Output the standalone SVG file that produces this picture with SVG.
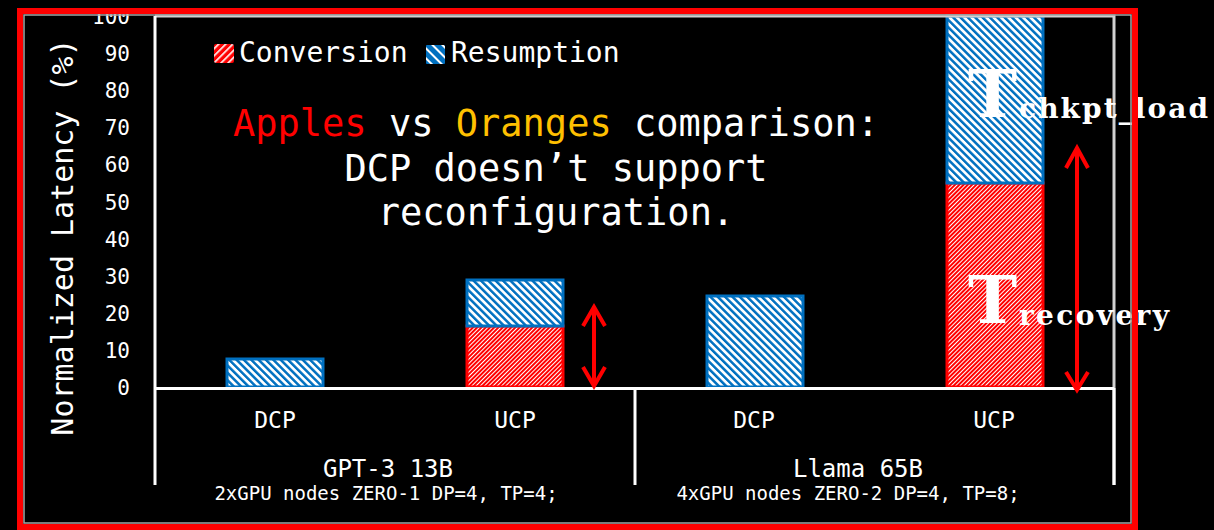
<svg xmlns="http://www.w3.org/2000/svg" width="1214" height="530" viewBox="0 0 1214 530">
  <defs>
    <pattern id="hatchBlue" patternUnits="userSpaceOnUse" width="5.2" height="5.2" patternTransform="rotate(-45)">
      <rect width="5.2" height="5.2" fill="#ffffff"/>
      <rect width="2.5" height="5.2" fill="#0070C0"/>
    </pattern>
    <pattern id="hatchRed" patternUnits="userSpaceOnUse" width="3" height="3" patternTransform="rotate(45)">
      <rect width="3" height="3" fill="#ff0000"/>
      <rect width="1" height="3" fill="#ffffff"/>
    </pattern>
    <pattern id="legRed" patternUnits="userSpaceOnUse" width="5" height="5" patternTransform="rotate(45)">
      <rect width="5" height="5" fill="#ff0000"/>
      <rect width="1.6" height="5" fill="#ffffff"/>
    </pattern>
    <pattern id="legBlue" patternUnits="userSpaceOnUse" width="7" height="7" patternTransform="rotate(-45)">
      <rect width="7" height="7" fill="#0070C0"/>
      <rect width="2" height="7" fill="#ffffff"/>
    </pattern>
    <style>
      .mono { font-family: "DejaVu Sans Mono", "Liberation Mono", monospace; fill: #ffffff; }
      .tick { font-size: 21px; text-anchor: end; }
      .cat { font-size: 23px; text-anchor: middle; }
      .grp { font-size: 24px; text-anchor: middle; }
      .sub { font-size: 19px; text-anchor: middle; }
      .blue { fill: url(#hatchBlue); stroke: #0070C0; stroke-width: 3; }
      .red { fill: url(#hatchRed); stroke: #ff0000; stroke-width: 3; }
      .arrow { fill: none; stroke: #ff0000; stroke-width: 4; }
      .tbig { font-family: "DejaVu Serif", "Liberation Serif", serif; font-weight: bold; fill: #ffffff; }
    </style>
  </defs>

  <rect x="0" y="0" width="1214" height="530" fill="#000000"/>

  <g id="y-ticks" class="mono tick">
    <text x="130" y="395">0</text>
    <text x="130" y="358">10</text>
    <text x="130" y="321">20</text>
    <text x="130" y="284">30</text>
    <text x="130" y="246.5">40</text>
    <text x="130" y="209.5">50</text>
    <text x="130" y="172">60</text>
    <text x="130" y="135">70</text>
    <text x="130" y="98">80</text>
    <text x="130" y="61">90</text>
    <text x="130" y="23.5">100</text>
  </g>

  <g id="y-label">
    <text class="mono" font-size="30" text-anchor="middle" transform="translate(73,237) rotate(-90)">Normalized Latency (%)</text>
  </g>

  <g id="bars">
    <g id="bar-gpt-dcp">
      <rect class="blue" x="227" y="359" width="96" height="28"/>
    </g>
    <g id="bar-gpt-ucp">
      <rect class="red" x="467" y="326" width="96" height="61"/>
      <rect class="blue" x="467" y="280" width="96" height="46"/>
    </g>
    <g id="bar-llama-dcp">
      <rect class="blue" x="707" y="296" width="96" height="91"/>
    </g>
    <g id="bar-llama-ucp">
      <rect class="red" x="947" y="183" width="96" height="204"/>
      <rect class="blue" x="947" y="16" width="96" height="167"/>
    </g>
  </g>

  <g id="axes">
    <path d="M155,16 H1114 V485" fill="none" stroke="#d0d0d0" stroke-width="3"/>
    <path d="M155,16 V485" fill="none" stroke="#ffffff" stroke-width="3"/>
    <path d="M155,388.5 H1114" fill="none" stroke="#ffffff" stroke-width="3"/>
    <path d="M635,388 V485" fill="none" stroke="#ffffff" stroke-width="3"/>
    <path d="M1114,388 V485" fill="none" stroke="#ffffff" stroke-width="3"/>
  </g>

  <g id="legend">
    <rect x="214" y="44" width="20" height="19" rx="2" fill="url(#legRed)"/>
    <text class="mono" x="239" y="62" font-size="28">Conversion</text>
    <rect x="426" y="45" width="19" height="19" rx="1" fill="url(#legBlue)"/>
    <text class="mono" x="451" y="62" font-size="28">Resumption</text>
  </g>

  <g id="annotation" class="mono" font-size="37" text-anchor="middle">
    <text x="556" y="136"><tspan fill="#ff0000">Apples</tspan> vs <tspan fill="#ffc000">Oranges</tspan> comparison:</text>
    <text x="556" y="181">DCP doesn’t support</text>
    <text x="556" y="225">reconfiguration.</text>
  </g>

  <g id="categories" class="mono">
    <text class="cat" x="275" y="428">DCP</text>
    <text class="cat" x="515" y="428">UCP</text>
    <text class="cat" x="754" y="428">DCP</text>
    <text class="cat" x="994" y="428">UCP</text>
    <text class="grp" x="388" y="477">GPT-3 13B</text>
    <text class="grp" x="858" y="477">Llama 65B</text>
    <text class="sub" x="386" y="500">2xGPU nodes ZERO-1 DP=4, TP=4;</text>
    <text class="sub" x="848" y="500">4xGPU nodes ZERO-2 DP=4, TP=8;</text>
  </g>

  <g id="connectors">
    <path class="arrow" d="M594,309 V384"/>
    <polyline class="arrow" points="583,326 594,307 605,326"/>
    <polyline class="arrow" points="583,367 594,386 605,367"/>
    <path class="arrow" d="M1077,148 V388"/>
    <polyline class="arrow" points="1066,168 1077,148 1088,168"/>
    <polyline class="arrow" points="1066,372 1077,390 1088,372"/>
  </g>

  <g id="t-labels">
    <text class="tbig" x="968" y="117" font-size="66">T</text>
    <text class="tbig" x="1019" y="118" font-size="28" textLength="189" lengthAdjust="spacing">chkpt_load</text>
    <text class="tbig" x="968" y="323" font-size="66">T</text>
    <text class="tbig" x="1019" y="325" font-size="28" textLength="150" lengthAdjust="spacing">recovery</text>
  </g>

  <g id="frame">
    <rect x="24" y="15" width="1107" height="508" fill="none" stroke="#a6a6a6" stroke-width="1.5"/>
    <rect x="20" y="11" width="1115" height="516" fill="none" stroke="#ff0000" stroke-width="6"/>
  </g>
</svg>
